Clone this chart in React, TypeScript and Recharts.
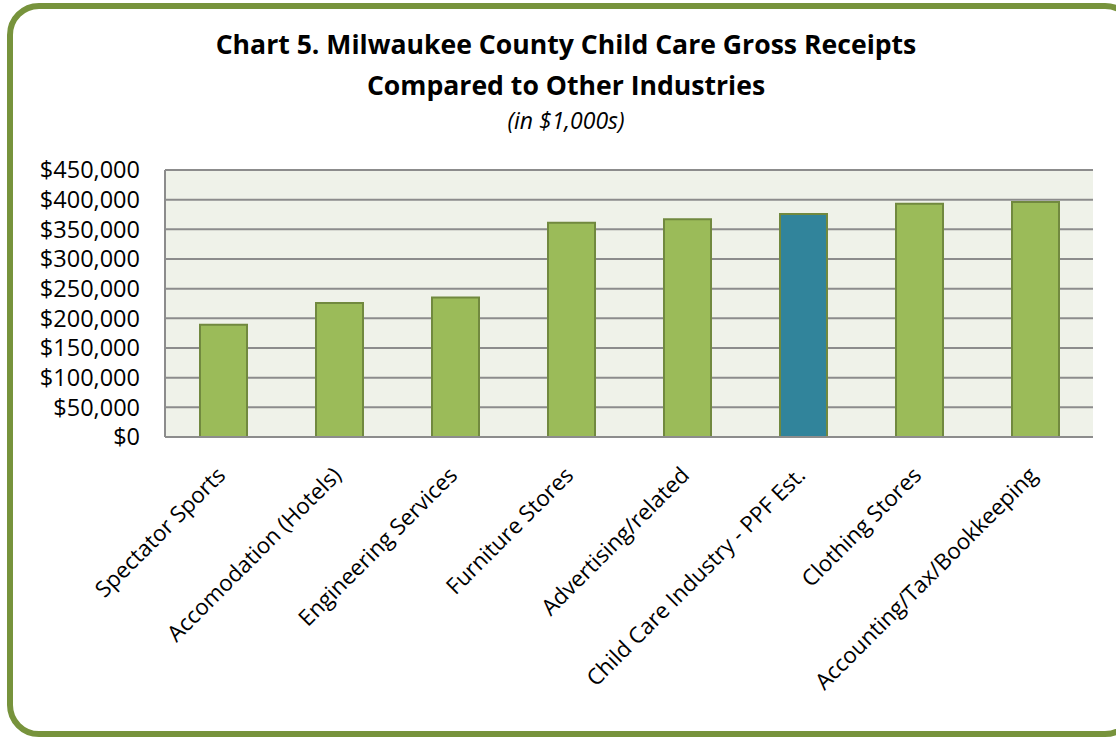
import React from 'react';
import { BarChart, Bar, XAxis, YAxis, CartesianGrid, Cell } from 'recharts';

const industries = [
  'Spectator Sports',
  'Accomodation (Hotels)',
  'Engineering Services',
  'Furniture Stores',
  'Advertising/related',
  'Child Care Industry - PPF Est.',
  'Clothing Stores',
  'Accounting/Tax/Bookkeeping',
];

const receipts = [189000, 226000, 235000, 361000, 367000, 376000, 393000, 396000];

const yTicks = [0, 50000, 100000, 150000, 200000, 250000, 300000, 350000, 400000, 450000];

const highlight = 'Child Care Industry - PPF Est.';

const data = industries.map((name, i) => ({ name, value: receipts[i] }));

const FONT = '"Open Sans", sans-serif';

const fmt = (v: number) => '$' + v.toLocaleString('en-US');

function YTick(props: any) {
  const { y, payload } = props;
  return (
    <text x={140} y={y} dy="0.36em" textAnchor="end" fontSize={23.5} fill="#000" fontFamily={FONT}>
      {fmt(payload.value)}
    </text>
  );
}

function XTick(props: any) {
  const { x, y, payload } = props;
  return (
    <g transform={`translate(${x - 2},${y + 26})`}>
      <text x={0} y={0} dy="0.36em" textAnchor="end" transform="rotate(-45)" fontSize={22.3} fill="#000" fontFamily={FONT}>
        {payload.value}
      </text>
    </g>
  );
}

export default function App() {
  return (
    <div style={{ position: 'fixed', left: 0, top: 0, width: 1116, height: 738, overflow: 'hidden', background: '#fff' }}>
      <div
        style={{
          position: 'absolute',
          left: 7,
          top: 3,
          width: 1130,
          height: 734,
          border: '6px solid #77933c',
          borderRadius: 32,
          boxSizing: 'border-box',
        }}
      />
      <div style={{ position: 'absolute', left: 0, top: 24, width: 1132, textAlign: 'center', fontFamily: FONT, fontWeight: 700, fontSize: 26.6, lineHeight: '41px', color: '#000' }}>
        Chart 5. Milwaukee County Child Care Gross Receipts
        <br />
        Compared to Other Industries
      </div>
      <div style={{ position: 'absolute', left: 0, top: 104, width: 1132, textAlign: 'center', fontFamily: FONT, fontStyle: 'italic', fontSize: 23, color: '#000' }}>
        (in $1,000s)
      </div>
      <div style={{ position: 'absolute', left: 0, top: 0 }}>
        <BarChart width={1116} height={738} data={data} margin={{ top: 170, right: 23, bottom: 101, left: 0 }}>
          <CartesianGrid vertical={false} stroke="#8c8c8c" strokeWidth={2} fill="#eff2e9" fillOpacity={1} />
          <XAxis
            dataKey="name"
            interval={0}
            height={200}
            tick={<XTick />}
            tickLine={false}
            axisLine={{ stroke: '#8c8c8c', strokeWidth: 2 }}
          />
          <YAxis
            domain={[0, 450000]}
            ticks={yTicks}
            width={165}
            tick={<YTick />}
            tickLine={false}
            axisLine={{ stroke: '#8c8c8c', strokeWidth: 2 }}
          />
          <Bar dataKey="value" barSize={47} stroke="#71893f" strokeWidth={2} isAnimationActive={false}>
            {data.map((d) => (
              <Cell key={d.name} fill={d.name === highlight ? '#31849b' : '#9bbb59'} />
            ))}
          </Bar>
        </BarChart>
      </div>
    </div>
  );
}
